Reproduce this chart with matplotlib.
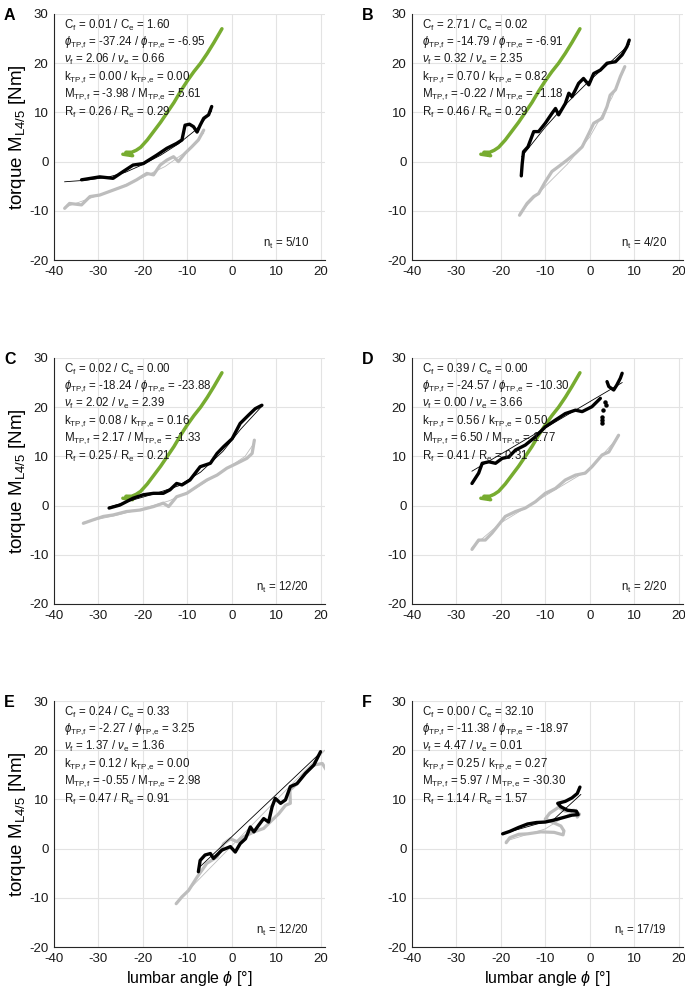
import matplotlib
matplotlib.use("Agg")
import matplotlib.pyplot as plt

plt.rcParams['font.family'] = ['Liberation Sans', 'DejaVu Sans']
plt.rcParams['mathtext.fontset'] = 'custom'
plt.rcParams['mathtext.rm'] = 'Liberation Sans'
plt.rcParams['mathtext.it'] = 'Liberation Sans:italic'
plt.rcParams['mathtext.bf'] = 'Liberation Sans:bold'
plt.rcParams['axes.unicode_minus'] = False

# ---------------- data ----------------
panel_letters = ["A", "B", "C", "D", "E", "F"]
x_ticks = [-40, -30, -20, -10, 0, 10, 20]
y_ticks = [-20, -10, 0, 10, 20, 30]

# shared reference curve (green), shown in panels A-D
green_x = [-24.5, -22.3, -23.8, -22.5, -21.5, -20.5, -19, -17.5, -16, -14.5, -13, -11.5, -10, -8.5, -7, -5.5, -4, -2.2]
green_y = [1.5, 1.2, 1.9, 1.9, 2.3, 2.9, 4.4, 6.2, 8.0, 10.0, 12.0, 14.3, 16.4, 18.3, 20.0, 22.0, 24.2, 27.0]

# Panel A
A_black_x = [-33.8, -29.7, -26.7, -24.4, -22.2, -19.9, -16.9, -14.6, -12.4, -11.2, -10.5, -9.5, -8.6, -7.8, -7.1, -6.3, -5.2, -4.5]
A_black_y = [-3.7, -3.1, -3.4, -2.0, -0.7, -0.4, 1.3, 2.7, 3.7, 4.4, 7.4, 7.6, 7.1, 6.0, 7.4, 8.8, 9.5, 11.2]
A_black_fit_x = [-37.6, -33, -28, -24, -20, -16, -12, -8, -4.5]
A_black_fit_y = [-4.1, -3.8, -3.2, -2.2, -0.6, 1.3, 3.6, 6.5, 10.3]
A_gray_x = [-37.6, -36.5, -33.8, -31.9, -29.7, -26.7, -23.7, -21.4, -19.1, -17.6, -16.1, -14.6, -13.1, -12.0, -10.5, -9.0, -7.5, -6.3]
A_gray_y = [-9.5, -8.5, -8.8, -7.1, -6.8, -5.8, -4.8, -3.7, -2.4, -2.7, -0.7, 0.3, 1.0, 0.0, 1.7, 3.0, 4.4, 6.4]
A_gray_fit_x = [-37.6, -32, -26, -20, -15, -10, -6.3]
A_gray_fit_y = [-9.3, -7.5, -5.5, -3.2, -1.0, 2.2, 5.8]

# Panel B
B_black_x = [-15.4, -15.2, -14.9, -13.9, -12.6, -11.5, -10.0, -8.5, -7.7, -7.0, -5.5, -4.7, -4.0, -3.2, -2.5, -1.4, -0.2, 0.9, 2.4, 3.9, 5.8, 7.3, 8.4, 8.9]
B_black_y = [-2.9, -0.5, 2.0, 3.0, 6.1, 6.1, 7.8, 9.8, 10.8, 9.5, 11.8, 13.9, 13.2, 14.6, 15.9, 16.9, 15.6, 17.9, 18.6, 20.0, 20.3, 21.7, 23.4, 24.7]
B_black_fit_x = [-15.3, -10, -5, 0, 5, 8.9]
B_black_fit_y = [1.0, 7.0, 12.0, 16.5, 20.5, 23.8]
B_gray_x = [-15.8, -14.1, -12.6, -11.5, -10.0, -8.5, -7.0, -5.1, -3.2, -1.7, -0.2, 0.9, 2.8, 3.9, 4.6, 5.8, 6.9, 7.9]
B_gray_y = [-10.9, -8.5, -7.1, -6.5, -4.1, -2.0, -1.0, 0.3, 1.7, 3.0, 5.7, 7.8, 8.8, 11.2, 13.5, 14.6, 17.3, 19.3]
B_gray_fit_x = [-15.8, -10, -5, 0, 5, 7.9]
B_gray_fit_y = [-10.5, -5.0, -0.5, 5.0, 13.0, 19.0]

# Panel C
C_black_x = [-27.6, -25.2, -22.2, -19.9, -17.6, -15.4, -13.9, -12.4, -11.2, -9.4, -7.1, -4.8, -3.3, -1.8, 0.1, 1.9, 3.8, 5.3, 6.8]
C_black_y = [-0.5, 0.1, 1.5, 2.2, 2.5, 2.5, 3.2, 4.5, 4.2, 5.2, 7.9, 8.6, 10.6, 12.0, 13.6, 16.7, 18.4, 19.7, 20.4]
C_black_fit_x = [-27.6, -22, -17, -12, -7, -2, 2, 6.8]
C_black_fit_y = [-0.3, 1.2, 2.5, 4.0, 6.8, 11.0, 15.5, 20.2]
C_gray_x = [-33.4, -31.2, -28.9, -26.7, -23.7, -20.6, -17.6, -15.4, -14.2, -12.4, -10.1, -7.8, -5.6, -3.3, -1.1, 1.2, 3.4, 4.6, 5.1]
C_gray_y = [-3.6, -2.9, -2.2, -1.9, -1.2, -0.9, -0.2, 0.5, -0.2, 1.8, 2.5, 3.9, 5.2, 6.2, 7.6, 8.6, 9.6, 10.6, 13.3]
C_gray_fit_x = [-33.4, -26, -20, -14, -8, -2, 3, 5.1]
C_gray_fit_y = [-3.4, -2.0, -0.6, 1.0, 3.6, 7.0, 10.0, 12.8]

# Panel D (black trace: main segment, scattered samples, upper segment)
D_black_x = [-26.5, -25.0, -24.2, -22.7, -21.2, -19.7, -18.2, -16.7, -14.5, -12.2, -10.0, -7.7, -5.5, -3.2, -1.7, 0.5, 2.4]
D_black_y = [4.5, 6.6, 8.6, 8.9, 8.6, 9.6, 9.9, 11.3, 12.3, 14.0, 16.0, 17.4, 18.7, 19.4, 19.1, 20.1, 21.8]
D_black_dots_x = [3.5, 3.6, 3.0, 2.8, 2.8, 2.7]
D_black_dots_y = [21.1, 20.4, 19.4, 18.1, 17.4, 16.8]
D_black_upper_x = [3.9, 4.3, 5.4, 6.1, 6.9, 7.3]
D_black_upper_y = [25.2, 24.2, 23.5, 24.5, 25.9, 26.9]
D_black_fit_x = [-26.5, 7.3]
D_black_fit_y = [7.0, 25.0]
D_gray_x = [-26.5, -25.0, -23.5, -22.0, -20.5, -19.0, -16.7, -14.5, -12.2, -10.0, -7.7, -5.5, -3.2, -1.0, 0.5, 2.8, 4.3, 5.4, 6.5]
D_gray_y = [-8.9, -7.0, -7.0, -5.6, -3.9, -2.2, -1.2, -0.5, 0.8, 2.5, 3.5, 5.2, 6.2, 6.6, 7.9, 10.3, 10.9, 12.6, 14.3]
D_gray_fit_x = [-26.5, -20, -10, 0, 6.5]
D_gray_fit_y = [-8.5, -3.5, 2.0, 7.4, 14.0]

# Panel E
E_black_x = [-7.5, -7.1, -6.0, -4.8, -4.1, -2.2, -0.3, 0.8, 1.9, 3.1, 4.2, 5.0, 6.1, 7.2, 8.3, 9.1, 9.8, 11.0, 12.1, 13.2, 14.7, 16.6, 18.5, 20.0]
E_black_y = [-4.7, -2.4, -1.3, -1.0, -2.0, -0.3, 0.4, -0.7, 1.0, 2.0, 4.4, 3.4, 4.8, 6.1, 5.4, 8.5, 10.2, 9.2, 9.9, 12.6, 13.2, 15.3, 17.0, 19.7]
E_black_fit_x = [-7.5, 20]
E_black_fit_y = [-4.0, 19.5]
E_gray_x = [-12.5, -11.2, -9.7, -7.8, -5.6, -3.3, -1.8, -0.3, 1.2, 2.7, 5.0, 7.2, 9.1, 10.6, 12.1, 13.2, 13.1, 14.7, 16.6, 18.5, 20.4, 21.3]
E_gray_y = [-11.2, -9.8, -8.5, -5.8, -3.0, -1.7, 1.0, 2.0, 1.4, 2.4, 3.4, 4.1, 5.8, 7.1, 8.8, 9.2, 11.9, 13.2, 15.3, 17.0, 17.3, 16.0]
E_gray_fit_x = [-12.5, 21]
E_gray_fit_y = [-11.0, 20.0]

# Panel F
F_black_x = [-19.6, -18, -16, -14, -12, -10, -8, -6, -4, -2.6, -3, -5, -6.5, -7.2, -5.5, -4, -2.8, -2.2]
F_black_y = [3.0, 3.5, 4.3, 5.0, 5.3, 5.4, 5.8, 6.3, 6.8, 6.9, 7.6, 7.8, 8.5, 9.2, 9.6, 10.3, 11.2, 12.5]
F_black_fit_x = [-19.6, -8, -2]
F_black_fit_y = [3.0, 6.0, 11.0]
F_gray_x = [-18.8, -18, -16, -14, -11, -8, -6, -5.8, -6.5, -8.5, -10, -9, -7, -5.5, -3.5, -2.3, -2.8]
F_gray_y = [1.2, 2.2, 2.9, 3.0, 3.4, 3.3, 2.8, 3.6, 4.6, 5.4, 6.0, 7.2, 8.4, 7.6, 7.8, 7.0, 6.4]
F_gray_fit_x = [-19, -10, -3]
F_gray_fit_y = [1.5, 4.0, 8.0]

params_text = {
    "A": ["C$_\\mathrm{f}$ = 0.01 / C$_\\mathrm{e}$ = 1.60",
          "$\\phi_\\mathrm{TP{,}f}$ = -37.24 / $\\phi_\\mathrm{TP{,}e}$ = -6.95",
          "$\\nu_\\mathrm{f}$ = 2.06 / $\\nu_\\mathrm{e}$ = 0.66",
          "k$_\\mathrm{TP{,}f}$ = 0.00 / k$_\\mathrm{TP{,}e}$ = 0.00",
          "M$_\\mathrm{TP{,}f}$ = -3.98 / M$_\\mathrm{TP{,}e}$ = 5.61",
          "R$_\\mathrm{f}$ = 0.26 / R$_\\mathrm{e}$ = 0.29"],
    "B": ["C$_\\mathrm{f}$ = 2.71 / C$_\\mathrm{e}$ = 0.02",
          "$\\phi_\\mathrm{TP{,}f}$ = -14.79 / $\\phi_\\mathrm{TP{,}e}$ = -6.91",
          "$\\nu_\\mathrm{f}$ = 0.32 / $\\nu_\\mathrm{e}$ = 2.35",
          "k$_\\mathrm{TP{,}f}$ = 0.70 / k$_\\mathrm{TP{,}e}$ = 0.82",
          "M$_\\mathrm{TP{,}f}$ = -0.22 / M$_\\mathrm{TP{,}e}$ = -1.18",
          "R$_\\mathrm{f}$ = 0.46 / R$_\\mathrm{e}$ = 0.29"],
    "C": ["C$_\\mathrm{f}$ = 0.02 / C$_\\mathrm{e}$ = 0.00",
          "$\\phi_\\mathrm{TP{,}f}$ = -18.24 / $\\phi_\\mathrm{TP{,}e}$ = -23.88",
          "$\\nu_\\mathrm{f}$ = 2.02 / $\\nu_\\mathrm{e}$ = 2.39",
          "k$_\\mathrm{TP{,}f}$ = 0.08 / k$_\\mathrm{TP{,}e}$ = 0.16",
          "M$_\\mathrm{TP{,}f}$ = 2.17 / M$_\\mathrm{TP{,}e}$ = -1.33",
          "R$_\\mathrm{f}$ = 0.25 / R$_\\mathrm{e}$ = 0.21"],
    "D": ["C$_\\mathrm{f}$ = 0.39 / C$_\\mathrm{e}$ = 0.00",
          "$\\phi_\\mathrm{TP{,}f}$ = -24.57 / $\\phi_\\mathrm{TP{,}e}$ = -10.30",
          "$\\nu_\\mathrm{f}$ = 0.00 / $\\nu_\\mathrm{e}$ = 3.66",
          "k$_\\mathrm{TP{,}f}$ = 0.56 / k$_\\mathrm{TP{,}e}$ = 0.50",
          "M$_\\mathrm{TP{,}f}$ = 6.50 / M$_\\mathrm{TP{,}e}$ = 1.77",
          "R$_\\mathrm{f}$ = 0.41 / R$_\\mathrm{e}$ = 0.31"],
    "E": ["C$_\\mathrm{f}$ = 0.24 / C$_\\mathrm{e}$ = 0.33",
          "$\\phi_\\mathrm{TP{,}f}$ = -2.27 / $\\phi_\\mathrm{TP{,}e}$ = 3.25",
          "$\\nu_\\mathrm{f}$ = 1.37 / $\\nu_\\mathrm{e}$ = 1.36",
          "k$_\\mathrm{TP{,}f}$ = 0.12 / k$_\\mathrm{TP{,}e}$ = 0.00",
          "M$_\\mathrm{TP{,}f}$ = -0.55 / M$_\\mathrm{TP{,}e}$ = 2.98",
          "R$_\\mathrm{f}$ = 0.47 / R$_\\mathrm{e}$ = 0.91"],
    "F": ["C$_\\mathrm{f}$ = 0.00 / C$_\\mathrm{e}$ = 32.10",
          "$\\phi_\\mathrm{TP{,}f}$ = -11.38 / $\\phi_\\mathrm{TP{,}e}$ = -18.97",
          "$\\nu_\\mathrm{f}$ = 4.47 / $\\nu_\\mathrm{e}$ = 0.01",
          "k$_\\mathrm{TP{,}f}$ = 0.25 / k$_\\mathrm{TP{,}e}$ = 0.27",
          "M$_\\mathrm{TP{,}f}$ = 5.97 / M$_\\mathrm{TP{,}e}$ = -30.30",
          "R$_\\mathrm{f}$ = 1.14 / R$_\\mathrm{e}$ = 1.57"],
}
n_trials = {"A": "5/10", "B": "4/20", "C": "12/20", "D": "2/20", "E": "12/20", "F": "17/19"}

black_series = {
    "A": (A_black_x, A_black_y, A_black_fit_x, A_black_fit_y),
    "B": (B_black_x, B_black_y, B_black_fit_x, B_black_fit_y),
    "C": (C_black_x, C_black_y, C_black_fit_x, C_black_fit_y),
    "D": (D_black_x, D_black_y, D_black_fit_x, D_black_fit_y),
    "E": (E_black_x, E_black_y, E_black_fit_x, E_black_fit_y),
    "F": (F_black_x, F_black_y, F_black_fit_x, F_black_fit_y),
}
gray_series = {
    "A": (A_gray_x, A_gray_y, A_gray_fit_x, A_gray_fit_y),
    "B": (B_gray_x, B_gray_y, B_gray_fit_x, B_gray_fit_y),
    "C": (C_gray_x, C_gray_y, C_gray_fit_x, C_gray_fit_y),
    "D": (D_gray_x, D_gray_y, D_gray_fit_x, D_gray_fit_y),
    "E": (E_gray_x, E_gray_y, E_gray_fit_x, E_gray_fit_y),
    "F": (F_gray_x, F_gray_y, F_gray_fit_x, F_gray_fit_y),
}
show_green = {"A": True, "B": True, "C": True, "D": True, "E": False, "F": False}

# ---------------- layout ----------------
W, H = 685, 991
fig = plt.figure(figsize=(W / 100, H / 100), dpi=100)
col_left = [54, 412]
row_top = [14, 358, 701]
ax_w, ax_h = 271, 246

GREEN = '#77AC30'
GRAY = '#BDBDBD'
thick = dict(solid_joinstyle='round', solid_capstyle='round')

for i, letter in enumerate(panel_letters):
    r, c = divmod(i, 2)
    l = col_left[c]
    t = row_top[r]
    ax = fig.add_axes([l / W, 1 - (t + ax_h) / H, ax_w / W, ax_h / H])
    ax.set_xlim(-40, 21)
    ax.set_ylim(-20, 30)
    ax.set_xticks(x_ticks)
    ax.set_yticks(y_ticks)
    ax.grid(True, color='#E3E3E3', linewidth=0.8)
    ax.set_axisbelow(True)
    for s in ['top', 'right']:
        ax.spines[s].set_visible(False)
    for s in ['left', 'bottom']:
        ax.spines[s].set_color('#262626')
        ax.spines[s].set_linewidth(0.8)
    ax.tick_params(length=0, labelsize=9.5, pad=4, colors='#1a1a1a')

    gx, gy, gfx, gfy = gray_series[letter]
    bx, by, bfx, bfy = black_series[letter]
    ax.plot(gx, gy, color=GRAY, lw=2.3, zorder=2, **thick)
    ax.plot(gfx, gfy, color=GRAY, lw=0.6, zorder=2.5)
    if show_green[letter]:
        ax.plot(green_x, green_y, color=GREEN, lw=2.5, zorder=3, **thick)
    ax.plot(bx, by, color='black', lw=2.4, zorder=4, **thick)
    if letter == "D":
        ax.plot(D_black_upper_x, D_black_upper_y, color='black', lw=2.4, zorder=4, **thick)
        ax.plot(D_black_dots_x, D_black_dots_y, 'o', color='black', ms=2.2, zorder=4)
    ax.plot(bfx, bfy, color='black', lw=0.6, zorder=4.5)

    for k, line in enumerate(params_text[letter]):
        ax.text(0.037, 0.955 - k * 0.0707, line, transform=ax.transAxes,
                fontsize=8.3, va='center', ha='left', color='#1a1a1a', zorder=6)
    ax.text(0.94, 0.035, "n$_\\mathrm{t}$ = " + n_trials[letter], transform=ax.transAxes,
            fontsize=8.3, va='bottom', ha='right', color='#1a1a1a')

    fig.text((l - 50) / W, 1 - (t - 6) / H, letter, fontsize=11.5, fontweight='bold',
             va='top', ha='left')
    if c == 0:
        ax.set_ylabel("torque M$_\\mathrm{L4/5}$ [Nm]", fontsize=13.5, labelpad=1)
    if r == 2:
        ax.set_xlabel("lumbar angle $\\phi$ [°]", fontsize=11.5, labelpad=3)

fig.savefig("out.png", dpi=100)
